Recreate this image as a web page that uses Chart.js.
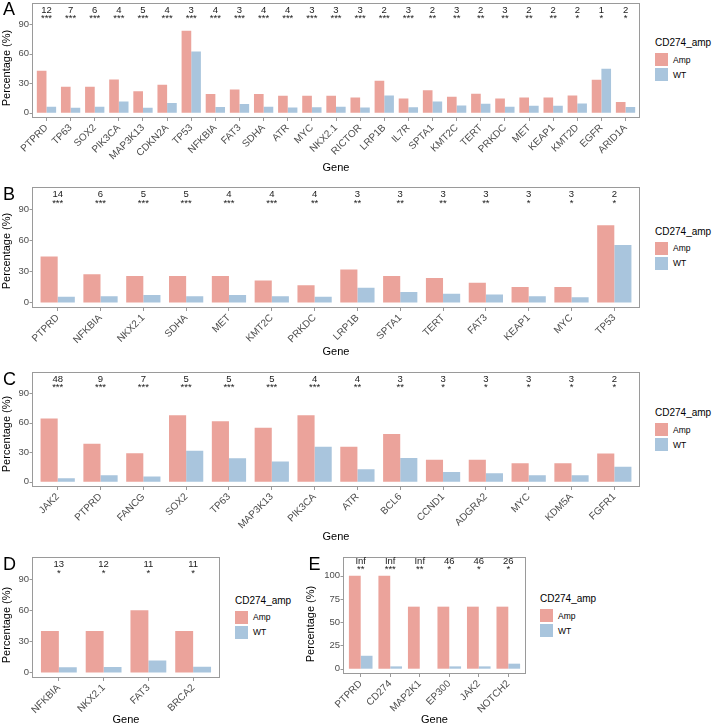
<!DOCTYPE html>
<html>
<head>
<meta charset="utf-8">
<script src="https://cdn.jsdelivr.net/npm/chart.js@4.4.1/dist/chart.umd.min.js"></script>
<style>
  html, body { margin: 0; padding: 0; background: #fff; overflow: hidden; }
  body { width: 713px; height: 726px; position: relative; font-family: "Liberation Sans", Arial, sans-serif; }
  canvas { position: absolute; }
  .tag { position: absolute; font-size: 18px; line-height: 18px; color: #000; }
  .lgTitle { position: absolute; font-size: 10px; line-height: 12px; color: #000; white-space: nowrap; }
  .lgKey { position: absolute; width: 13px; height: 13px; }
  .lgLab { position: absolute; font-size: 8.5px; line-height: 10px; color: #000; }
</style>
</head>
<body>
<script>
// ---- data ----
const genesA = ["PTPRD", "TP63", "SOX2", "PIK3CA", "MAP3K13", "CDKN2A", "TP53", "NFKBIA", "FAT3", "SDHA", "ATR", "MYC", "NKX2.1", "RICTOR", "LRP1B", "IL7R", "SPTA1", "KMT2C", "TERT", "PRKDC", "MET", "KEAP1", "KMT2D", "EGFR", "ARID1A"];
const ampA = [42.5, 26.3, 26.3, 33.7, 21.7, 28.3, 83.2, 18.9, 23.5, 18.9, 17.2, 17.2, 17.2, 15.5, 32.4, 14.5, 22.9, 16.2, 19.2, 14.5, 15.5, 15.5, 17.5, 33.4, 10.8];
const wtA = [6.2, 5.2, 6.0, 11.5, 5.2, 10.0, 62.0, 5.8, 8.8, 6.2, 5.3, 5.6, 6.2, 5.4, 17.4, 5.7, 11.5, 7.3, 9.2, 6.2, 7.2, 7.2, 9.3, 44.7, 5.8];
const numA = [12, 7, 6, 4, 5, 4, 3, 4, 3, 4, 4, 3, 3, 3, 2, 3, 2, 3, 2, 3, 2, 2, 2, 1, 2];
const sigA = ["***", "***", "***", "***", "***", "***", "***", "***", "***", "***", "***", "***", "***", "***", "***", "***", "**", "**", "**", "**", "**", "**", "*", "*", "*"];

const genesB = ["PTPRD", "NFKBIA", "NKX2.1", "SDHA", "MET", "KMT2C", "PRKDC", "LRP1B", "SPTA1", "TERT", "FAT3", "KEAP1", "MYC", "TP53"];
const ampB = [44.4, 27.3, 25.4, 25.4, 25.4, 21.2, 16.7, 31.8, 25.4, 23.5, 19.0, 14.8, 14.8, 74.3];
const wtB = [5.5, 6.1, 7.1, 6.1, 7.1, 6.1, 5.5, 14.1, 10.0, 8.4, 7.7, 6.1, 5.1, 55.3];
const numB = [14, 6, 5, 5, 4, 4, 4, 3, 3, 3, 3, 3, 3, 2];
const sigB = ["***", "***", "***", "***", "***", "***", "**", "**", "**", "**", "**", "*", "*", "*"];

const genesC = ["JAK2", "PTPRD", "FANCG", "SOX2", "TP63", "MAP3K13", "PIK3CA", "ATR", "BCL6", "CCND1", "ADGRA2", "MYC", "KDM5A", "FGFR1"];
const ampC = [64.2, 38.5, 29.0, 67.3, 61.2, 54.7, 67.3, 35.4, 48.3, 22.2, 22.2, 18.8, 18.8, 28.6];
const wtC = [3.6, 6.6, 5.3, 31.4, 23.9, 20.5, 35.4, 12.7, 24.2, 10.0, 8.6, 6.6, 6.6, 15.1];
const numC = [48, 9, 7, 5, 5, 5, 4, 4, 3, 3, 3, 3, 3, 2];
const sigC = ["***", "***", "***", "***", "***", "***", "***", "**", "**", "*", "*", "*", "*", "*"];

const genesD = ["NFKBIA", "NKX2.1", "FAT3", "BRCA2"];
const ampD = [40, 40, 60, 40];
const wtD = [5.0, 5.3, 11.6, 5.6];
const numD = [13, 12, 11, 11];
const sigD = ["*", "*", "*", "*"];

const genesE = ["PTPRD", "CD274", "MAP2K1", "EP300", "JAK2", "NOTCH2"];
const ampE = [100, 100, 66.7, 66.7, 66.7, 66.7];
const wtE = [13.9, 2.5, 0, 2.5, 2.5, 5.4];
const numE = ["Inf", "Inf", "Inf", 46, 46, 26];
const sigE = ["**", "***", "**", "*", "*", "*"];

const ticksPct = [0, 30, 60, 90];
const ticksE = [0, 25, 50, 75, 100];
const groups = ["Amp", "WT"];
const colors = ["#EBA39B", "#A9C5DD"];

// ---- layout ----
const panels = [
  { tag: "A", genes: genesA, amp: ampA, wt: wtA, num: numA, sig: sigA, ticks: ticksPct, yMin: -5.3, yMax: 111.2, numY: 104,
    cv: { x: 0, y: 0, w: 645, h: 175 }, box: { l: 32, r: 640, t: 3, b: 118 }, yTitle: 68, lg: { x: 655, y: 43.3 }, tagAt: { x: 3, y: 0 } },
  { tag: "B", genes: genesB, amp: ampB, wt: wtB, num: numB, sig: sigB, ticks: ticksPct, yMin: -5.3, yMax: 111.2, numY: 104,
    cv: { x: 0, y: 180, w: 645, h: 179 }, box: { l: 32, r: 640, t: 187, b: 308 }, yTitle: 251, lg: { x: 655, y: 231.7 }, tagAt: { x: 3, y: 184.5 } },
  { tag: "C", genes: genesC, amp: ampC, wt: wtC, num: numC, sig: sigC, ticks: ticksPct, yMin: -5.3, yMax: 111.2, numY: 104,
    cv: { x: 0, y: 365, w: 645, h: 179 }, box: { l: 32, r: 640, t: 372, b: 487 }, yTitle: 434, lg: { x: 655, y: 413.3 }, tagAt: { x: 3, y: 369.5 } },
  { tag: "D", genes: genesD, amp: ampD, wt: wtD, num: numD, sig: sigD, ticks: ticksPct, yMin: -5.3, yMax: 111.2, numY: 104,
    cv: { x: 0, y: 550, w: 225, h: 177 }, box: { l: 32, r: 220, t: 557, b: 678 }, yTitle: 625, lg: { x: 235, y: 600.7 }, tagAt: { x: 3, y: 555 } },
  { tag: "E", genes: genesE, amp: ampE, wt: wtE, num: numE, sig: sigE, ticks: ticksE, yMin: -5.7, yMax: 120.1, numY: 115.5,
    cv: { x: 304, y: 550, w: 227, h: 177 }, box: { l: 343, r: 526, t: 557, b: 674 }, yTitle: 624, lg: { x: 540, y: 599 }, tagAt: { x: 308.6, y: 555 } }
];

const FONT = '"Liberation Sans", Arial, sans-serif';

// panel border, y tick marks, y title and the count / star labels above the bars
const frame = {
  id: "frame",
  afterDraw(chart, args, o) {
    const { ctx, chartArea: a, scales: { x, y } } = chart;
    const left = Math.round(a.left - o.gap) + 0.5;
    const right = Math.round(a.right + o.gap) - 0.5;
    ctx.save();
    ctx.strokeStyle = "#9a9a9a";
    ctx.lineWidth = 1;
    ctx.strokeRect(left, Math.round(a.top) + 0.5, right - left, Math.round(a.bottom) - Math.round(a.top) - 1);
    ctx.beginPath();
    y.ticks.forEach(t => {
      const py = Math.round(y.getPixelForValue(t.value)) + 0.5;
      ctx.moveTo(left - 3, py);
      ctx.lineTo(left, py);
    });
    ctx.stroke();

    ctx.fillStyle = "#1a1a1a";
    ctx.textAlign = "center";
    ctx.textBaseline = "middle";
    ctx.font = "9.5px " + FONT;
    const py = y.getPixelForValue(o.numY);
    o.num.forEach((n, i) => {
      const px = x.getPixelForValue(i);
      ctx.fillText(String(n), px, py);
      ctx.fillText(o.sig[i], px, py + 8.5);
    });

    ctx.translate(7, o.titleY);
    ctx.rotate(-Math.PI / 2);
    ctx.fillStyle = "#000";
    ctx.font = "11px " + FONT;
    ctx.fillText("Percentage (%)", 0, 0);
    ctx.restore();
  }
};

panels.forEach(p => {
  const n = p.genes.length;
  const boxW = p.box.r - p.box.l;
  const gap = 0.1 * boxW / (n + 0.2); // ggplot discrete expand (0.6) vs chart.js offset (0.5)

  const canvas = document.createElement("canvas");
  canvas.width = p.cv.w;
  canvas.height = p.cv.h;
  canvas.style.left = p.cv.x + "px";
  canvas.style.top = p.cv.y + "px";
  document.body.appendChild(canvas);

  new Chart(canvas.getContext("2d"), {
    type: "bar",
    data: {
      labels: p.genes,
      datasets: [
        { label: groups[0], data: p.amp, backgroundColor: colors[0], categoryPercentage: 0.8, barPercentage: 1 },
        { label: groups[1], data: p.wt, backgroundColor: colors[1], categoryPercentage: 0.8, barPercentage: 1 }
      ]
    },
    options: {
      responsive: false,
      animation: false,
      layout: { padding: { left: 0, top: p.box.t - p.cv.y, right: p.cv.w - (p.box.r - p.cv.x) + gap, bottom: 0 } },
      plugins: {
        legend: { display: false },
        tooltip: { enabled: false },
        frame: { gap: gap, num: p.num, sig: p.sig, numY: p.numY, titleY: p.yTitle - p.cv.y }
      },
      scales: {
        x: {
          type: "category",
          grid: { display: true, drawOnChartArea: false, drawTicks: true, tickLength: 3, color: "#9a9a9a", offset: false },
          border: { display: false },
          ticks: { autoSkip: false, minRotation: 45, maxRotation: 45, padding: 1, color: "#4d4d4d", font: { family: FONT, size: 10 } },
          title: { display: true, text: "Gene", color: "#000", padding: 0, font: { family: FONT, size: 11 } },
          afterFit: s => { s.height = p.cv.h - (p.box.b - p.cv.y); s.paddingLeft = 0; s.paddingRight = 0; }
        },
        y: {
          min: p.yMin,
          max: p.yMax,
          grid: { display: false, drawTicks: false },
          border: { display: false },
          afterBuildTicks: s => { s.ticks = p.ticks.map(v => ({ value: v })); },
          ticks: { padding: gap + 3, color: "#4d4d4d", font: { family: FONT, size: 9.5 } },
          afterFit: s => { s.width = p.box.l - p.cv.x + gap; s.paddingTop = 0; s.paddingBottom = 0; }
        }
      }
    },
    plugins: [frame]
  });

  // panel tag
  const tag = document.createElement("div");
  tag.className = "tag";
  tag.textContent = p.tag;
  tag.style.left = p.tagAt.x + "px";
  tag.style.top = p.tagAt.y + "px";
  document.body.appendChild(tag);

  // legend
  const t = document.createElement("div");
  t.className = "lgTitle";
  t.textContent = "CD274_amp";
  t.style.left = p.lg.x + "px";
  t.style.top = (p.lg.y - 6) + "px";
  document.body.appendChild(t);
  groups.forEach((g, i) => {
    const k = document.createElement("div");
    k.className = "lgKey";
    k.style.background = colors[i];
    k.style.left = p.lg.x + "px";
    k.style.top = (p.lg.y + 10 + i * 15) + "px";
    document.body.appendChild(k);
    const l = document.createElement("div");
    l.className = "lgLab";
    l.textContent = g;
    l.style.left = (p.lg.x + 18) + "px";
    l.style.top = (p.lg.y + 10 + i * 15 + 1.5) + "px";
    document.body.appendChild(l);
  });
});
</script>
</body>
</html>
